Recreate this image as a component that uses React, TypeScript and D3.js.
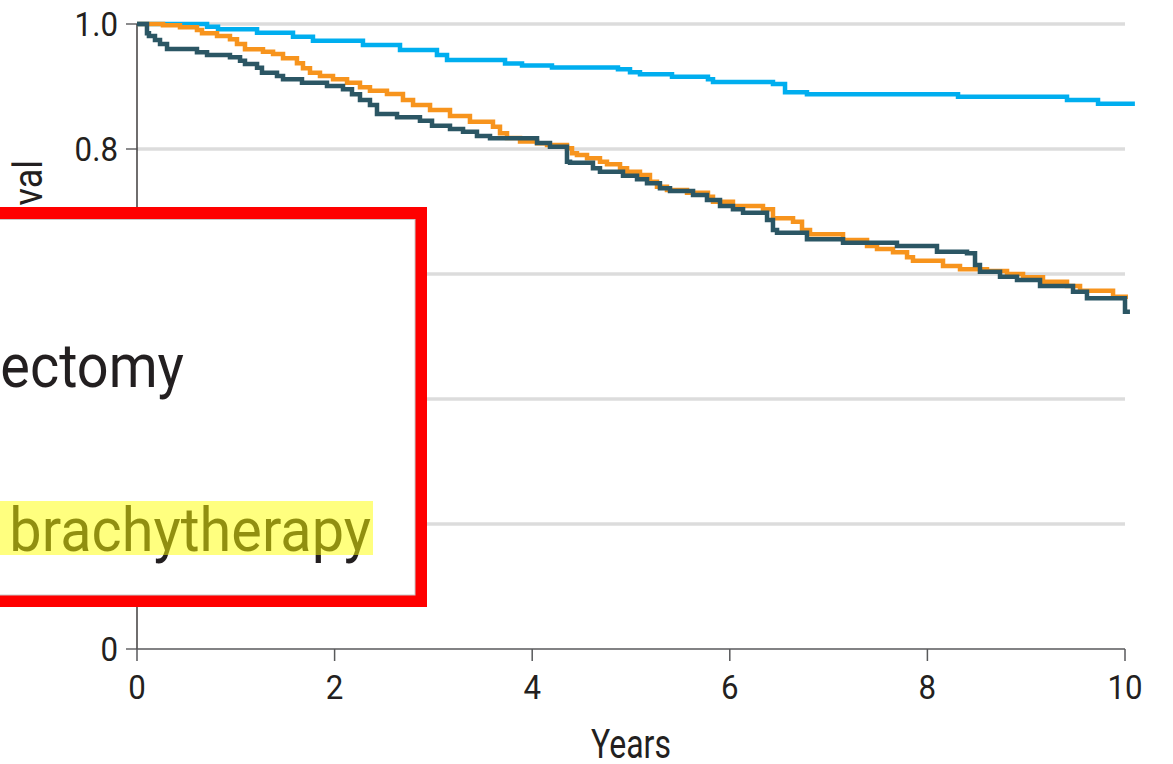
import React from "react";
import * as d3 from "d3";

// ---- data (years since treatment, survival probability) ----
const blueYears = [0, 0.709, 0.82, 1.215, 1.579, 1.781, 2.287, 2.662, 3.036, 3.138, 3.725, 3.897, 4.2, 4.868, 4.99, 5.091, 5.415, 5.779, 5.83, 6.437, 6.559, 6.781, 8.31, 9.413, 9.727, 10.1];
const blueSurv = [1.0, 0.9957, 0.9915, 0.9861, 0.9797, 0.9733, 0.9664, 0.9584, 0.9504, 0.9424, 0.9368, 0.9336, 0.9304, 0.9275, 0.9227, 0.9195, 0.9157, 0.9115, 0.9072, 0.904, 0.8907, 0.8875, 0.8837, 0.8784, 0.8725, 0.8725];

const orangeYears = [0, 0.263, 0.435, 0.607, 0.658, 0.81, 0.941, 1.012, 1.093, 1.275, 1.377, 1.478, 1.619, 1.68, 1.751, 1.852, 1.984, 2.126, 2.257, 2.358, 2.53, 2.692, 2.794, 2.966, 3.168, 3.37, 3.603, 3.674, 3.745, 3.877, 4.049, 4.15, 4.352, 4.403, 4.453, 4.555, 4.686, 4.757, 4.889, 4.96, 5.091, 5.192, 5.263, 5.364, 5.567, 5.779, 5.83, 6.032, 6.336, 6.437, 6.64, 6.731, 6.812, 7.146, 7.389, 7.49, 7.652, 7.794, 7.854, 8.158, 8.33, 8.603, 8.806, 8.968, 9.17, 9.413, 9.545, 9.879, 10.03];
const orangeSurv = [1.0, 0.9979, 0.9947, 0.9904, 0.9851, 0.9808, 0.9755, 0.968, 0.9595, 0.9557, 0.952, 0.9451, 0.9371, 0.9291, 0.9221, 0.9168, 0.9115, 0.9061, 0.8987, 0.8933, 0.888, 0.8784, 0.8704, 0.8624, 0.8528, 0.8437, 0.8357, 0.8251, 0.8176, 0.812, 0.8091, 0.8064, 0.8011, 0.7931, 0.7904, 0.7851, 0.7797, 0.7755, 0.7691, 0.7637, 0.7584, 0.7477, 0.7397, 0.7344, 0.7301, 0.7237, 0.7157, 0.7088, 0.7035, 0.6891, 0.6837, 0.6704, 0.6635, 0.6544, 0.6448, 0.64, 0.6347, 0.6267, 0.6213, 0.6128, 0.6075, 0.6048, 0.6, 0.5947, 0.5877, 0.5808, 0.5733, 0.5637, 0.5637];

const darkYears = [0, 0.101, 0.121, 0.182, 0.233, 0.304, 0.607, 0.709, 0.941, 1.043, 1.093, 1.215, 1.265, 1.417, 1.478, 1.67, 1.923, 2.085, 2.176, 2.257, 2.358, 2.429, 2.632, 2.864, 2.986, 3.168, 3.3, 3.441, 3.573, 4.049, 4.18, 4.352, 4.383, 4.615, 4.686, 4.919, 5.061, 5.162, 5.293, 5.395, 5.628, 5.769, 5.901, 6.032, 6.134, 6.377, 6.437, 6.478, 6.781, 7.146, 7.692, 8.097, 8.401, 8.482, 8.532, 8.735, 8.907, 9.14, 9.474, 9.615, 10.0, 10.05];
const darkSurv = [1.0, 0.9851, 0.9808, 0.9744, 0.968, 0.96, 0.9547, 0.9504, 0.9467, 0.9413, 0.936, 0.9301, 0.9221, 0.9168, 0.9115, 0.9061, 0.9008, 0.8955, 0.8875, 0.8784, 0.8704, 0.856, 0.8507, 0.8453, 0.8373, 0.832, 0.8277, 0.8208, 0.8171, 0.8096, 0.8037, 0.7797, 0.7781, 0.7691, 0.7637, 0.7573, 0.7515, 0.7451, 0.7371, 0.7328, 0.7264, 0.7184, 0.7088, 0.7035, 0.6981, 0.6864, 0.6704, 0.6661, 0.6555, 0.6501, 0.6448, 0.6357, 0.6331, 0.6144, 0.6037, 0.5957, 0.5904, 0.5808, 0.5717, 0.5611, 0.5397, 0.5397];

const xTicks = [0, 2, 4, 6, 8, 10];
const yTicks = [0, 0.2, 0.4, 0.6, 0.8, 1.0];
const yTickLabels = ["0", "0.2", "0.4", "0.6", "0.8", "1.0"];
const gridValues = [0.2, 0.4, 0.6, 0.8, 1.0];

const legendLabels = ["Radical prostatectomy", "EBRT and brachytherapy"];
const xTitle = "Years";
const yTitle = "Survival";

const COLORS = { blue: "#00aeef", orange: "#f7941d", dark: "#2b5664" };
const FONT = "Roboto, 'Noto Sans', sans-serif";
const TEXT = "#231f20";

const W = 1173;
const H = 764;
const M = { left: 137, right: 48, top: 24, bottom: 115 };

export default function App() {
  const x = d3.scaleLinear().domain([0, 10]).range([M.left, W - M.right]);
  const y = d3.scaleLinear().domain([0, 1]).range([H - M.bottom, M.top]);

  const line = d3
    .line<[number, number]>()
    .x((d) => x(d[0]))
    .y((d) => y(d[1]))
    .curve(d3.curveStepAfter);

  const series = [
    { key: "blue", years: blueYears, surv: blueSurv, color: COLORS.blue },
    { key: "orange", years: orangeYears, surv: orangeSurv, color: COLORS.orange },
    { key: "dark", years: darkYears, surv: darkSurv, color: COLORS.dark },
  ];

  const x0 = x(0);
  const x1 = x(10);
  const yBase = y(0);

  return (
    <svg
      width={W}
      height={H}
      style={{ position: "absolute", left: 0, top: 0, background: "#fff" }}
      fontFamily={FONT}
    >
      <rect x={0} y={0} width={W} height={H} fill="#fff" />
      {/* gridlines */}
      {gridValues.map((v) => (
        <line key={v} x1={x0} x2={x1} y1={y(v)} y2={y(v)} stroke="#dcdcdc" strokeWidth={3.5} />
      ))}
      {/* y axis */}
      <line x1={x0} x2={x0} y1={y(1)} y2={yBase} stroke={TEXT} strokeWidth={1.3} />
      {yTicks.map((v, i) => (
        <g key={v}>
          <line x1={x0 - 11} x2={x0} y1={y(v)} y2={y(v)} stroke="#4d4d4f" strokeWidth={1.3} />
          <text
            transform={`translate(${x0 - 19},${y(v) + 12}) scale(0.92,1)`}
            textAnchor="end"
            fontSize={34}
            fill={TEXT}
          >
            {yTickLabels[i]}
          </text>
        </g>
      ))}
      {/* x axis */}
      <line x1={x0} x2={x1} y1={yBase} y2={yBase} stroke="#58595b" strokeWidth={1.5} />
      {xTicks.map((v) => (
        <g key={v}>
          <line x1={x(v)} x2={x(v)} y1={yBase} y2={yBase + 12} stroke="#58595b" strokeWidth={1.5} />
          <text
            transform={`translate(${x(v)},${yBase + 50}) scale(0.92,1)`}
            textAnchor="middle"
            fontSize={34}
            fill={TEXT}
          >
            {v}
          </text>
        </g>
      ))}
      <text
        transform={`translate(${(x0 + x1) / 2},${H - 6}) scale(0.8,1)`}
        textAnchor="middle"
        fontSize={40}
        fill={TEXT}
      >
        {xTitle}
      </text>
      <text
        transform={`translate(42,160) rotate(-90) scale(0.9,1)`}
        textAnchor="end"
        fontSize={40}
        fill={TEXT}
      >
        {yTitle}
      </text>

      {/* survival curves */}
      {series.map((s) => (
        <path
          key={s.key}
          d={line(s.years.map((t, i) => [t, s.surv[i]] as [number, number])) || ""}
          fill="none"
          stroke={s.color}
          strokeWidth={4.5}
        />
      ))}

      {/* zoomed legend callout with red frame */}
      <rect x={-20} y={213} width={441} height={388} fill="#fff" stroke="#ff0000" strokeWidth={12} />
      <rect x={-20} y={219.5} width={435} height={375.5} fill="none" stroke="#c8c8c8" strokeWidth={1} />
      <text
        transform={`translate(184,387) scale(0.9,1)`}
        textAnchor="end"
        fontSize={62}
        fill={TEXT}
      >
        {legendLabels[0]}
      </text>
      <text
        transform={`translate(371,551) scale(0.93,1)`}
        textAnchor="end"
        fontSize={62}
        fill={TEXT}
      >
        {legendLabels[1]}
      </text>
      <rect x={-10} y={501} width={383} height={54} fill="#ffff00" opacity={0.5} />
    </svg>
  );
}
